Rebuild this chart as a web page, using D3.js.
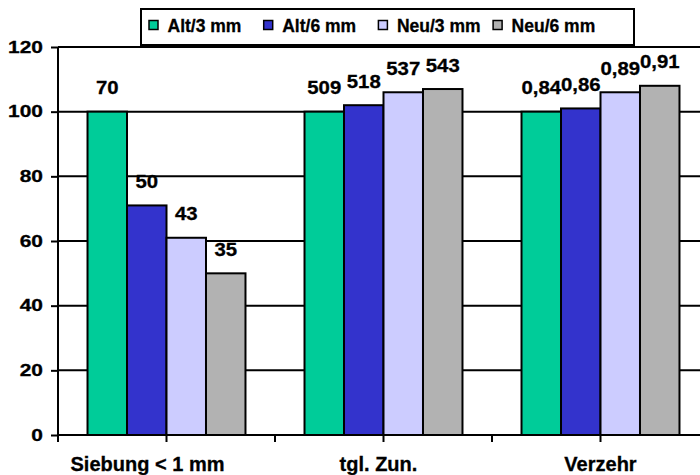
<!DOCTYPE html>
<html lang="de">
<head>
<meta charset="UTF-8">
<script src="https://d3js.org/d3.v7.min.js"></script>
<style>
  body { margin: 0; background: #fff; }
  text { font-family: "Liberation Sans", Arial, sans-serif; font-weight: bold; fill: #000; stroke: #000; stroke-width: 0.3px; }
</style>
</head>
<body>
<svg class="chart"></svg>
<script>

const categories = ['Siebung < 1 mm', 'tgl. Zun.', 'Verzehr']
const series = ['Alt/3 mm', 'Alt/6 mm', 'Neu/3 mm', 'Neu/6 mm']
// bar heights (relative, Alt/3 mm = 100)
const altThree = [100, 100, 100]
const altSix   = [71, 102, 101]
const neuThree = [61, 106, 106]
const neuSix   = [50, 107, 108]
// labels written above the bars
const labelsAltThree = ['70', '509', '0,84']
const labelsAltSix   = ['50', '518', '0,86']
const labelsNeuThree = ['43', '537', '0,89']
const labelsNeuSix   = ['35', '543', '0,91']
const yTicks = [0, 20, 40, 60, 80, 100, 120]

const colors = ['#00cc99', '#3333cc', '#ccccff', '#b2b2b2']

const W = 700, H = 475
const plot = {left: 58, top: 47, bottom: 435, step: 217}

let data = categories.map((c, i) => ({
  cat: c,
  vals: [altThree[i], altSix[i], neuThree[i], neuSix[i]],
  labels: [labelsAltThree[i], labelsAltSix[i], labelsNeuThree[i], labelsNeuSix[i]]
}))

let svg = d3.select('.chart')
    .attr('width', W)
    .attr('height', H)

let x0 = d3.scaleBand()
    .domain(categories)
    .range([plot.left, plot.left + plot.step * categories.length])
    .paddingInner(0.272)
    .paddingOuter(0.136)

let x1 = d3.scaleBand()
    .domain(series)
    .range([0, x0.bandwidth()])

let y = d3.scaleLinear()
    .domain([0, 120])
    .range([plot.bottom, plot.top])

// gridlines
svg.append('g')
  .selectAll('line')
  .data(yTicks.filter(d => d > 0))
  .join('line')
    .attr('x1', plot.left)
    .attr('x2', W)
    .attr('y1', d => y(d))
    .attr('y2', d => y(d))
    .attr('stroke', '#000')
    .attr('stroke-width', 2)

// y axis
let yAxis = d3.axisLeft(y)
    .tickValues(yTicks)
    .tickSize(7)
    .tickPadding(9)

let gy = svg.append('g')
    .attr('transform', `translate(${plot.left},0)`)
    .call(yAxis)
gy.select('.domain').attr('stroke-width', 2).attr('d', `M-0,${plot.bottom + 7}V${plot.top}`)
gy.selectAll('.tick line').attr('stroke-width', 2)
// the reference digits are drawn wide, so stretch them horizontally
gy.selectAll('.tick text')
    .attr('font-size', 16.5)
    .style('font-family', '"Liberation Sans", Arial, sans-serif')
    .attr('x', -15 / 1.27)
    .attr('transform', 'scale(1.27,1)')

// bars
let group = svg.selectAll('.group')
  .data(data)
  .join('g')
    .attr('class', 'group')
    .attr('transform', d => `translate(${x0(d.cat)},0)`)

group.selectAll('rect')
  .data(d => d.vals.map((v, i) => ({s: series[i], v: v, i: i})))
  .join('rect')
    .attr('x', d => x1(d.s))
    .attr('y', d => y(d.v))
    .attr('width', x1.bandwidth())
    .attr('height', d => y(0) - y(d.v))
    .attr('fill', d => colors[d.i])
    .attr('stroke', '#000')
    .attr('stroke-width', 2)

group.selectAll('text.val')
  .data(d => d.vals.map((v, i) => ({s: series[i], v: v, t: d.labels[i]})))
  .join('text')
    .attr('class', 'val')
    .attr('transform', d => `translate(${x1(d.s) + x1.bandwidth() / 2},${y(d.v) - 17.5}) scale(1.1,1)`)
    .attr('text-anchor', 'middle')
    .attr('font-size', 18.5)
    .text(d => d.t)

// x axis with ticks at every half category
let gx = svg.append('g')
gx.append('line')
    .attr('x1', plot.left - 1)
    .attr('x2', W)
    .attr('y1', plot.bottom)
    .attr('y2', plot.bottom)
    .attr('stroke', '#000')
    .attr('stroke-width', 2)
let halfTicks = d3.range(0, categories.length * 2 + 1).map(k => plot.left + k * plot.step / 2)
gx.selectAll('line.tk')
  .data(halfTicks)
  .join('line')
    .attr('class', 'tk')
    .attr('x1', d => d).attr('x2', d => d)
    .attr('y1', plot.bottom).attr('y2', plot.bottom + 7)
    .attr('stroke', '#000')
    .attr('stroke-width', 2)

// category labels (first one sits a bit left in the original)
const labelShift = [-19, -5, 0]
gx.selectAll('text')
  .data(categories)
  .join('text')
    .attr('x', (d, i) => x0(d) + x0.bandwidth() / 2 + labelShift[i])
    .attr('y', 471)
    .attr('text-anchor', 'middle')
    .attr('font-size', 20)
    .text(d => d)

// legend
let legend = svg.append('g')
legend.append('rect')
    .attr('x', 141)
    .attr('y', 9)
    .attr('width', 493)
    .attr('height', 36)
    .attr('fill', '#fff')
    .attr('stroke', '#000')
    .attr('stroke-width', 2)

let item = legend.selectAll('.item')
  .data(series)
  .join('g')
    .attr('class', 'item')
    .attr('transform', (d, i) => `translate(${149 + i * 114.7},0)`)
item.append('rect')
    .attr('y', 20.5)
    .attr('width', 9)
    .attr('height', 9)
    .attr('fill', (d, i) => colors[i])
    .attr('stroke', '#000')
    .attr('stroke-width', 1.5)
item.append('text')
    .attr('x', 18.5)
    .attr('y', 32)
    .attr('font-size', 17.5)
    .text(d => d)

</script>
</body>
</html>
